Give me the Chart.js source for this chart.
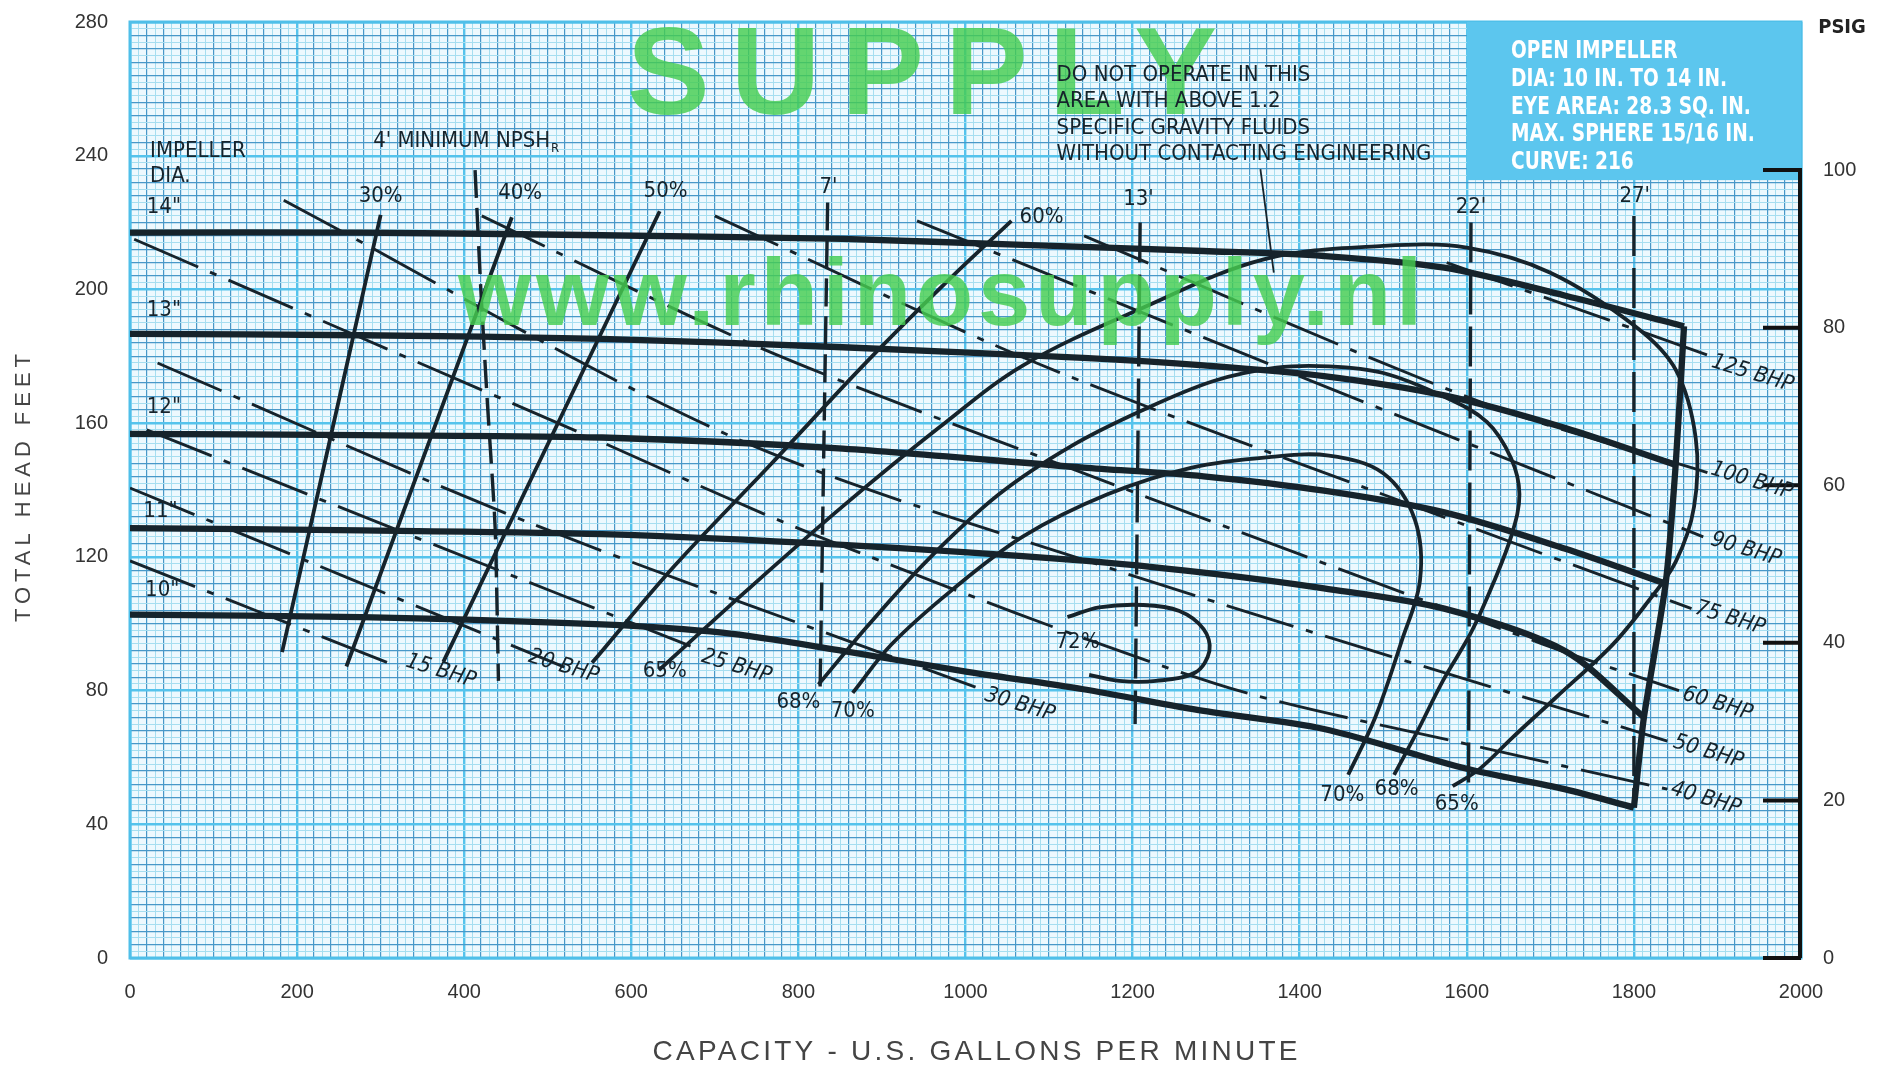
<!DOCTYPE html>
<html>
<head>
<meta charset="utf-8">
<title>Curve 216</title>
<script src="https://cdn.jsdelivr.net/npm/chart.js@4.4.1/dist/chart.umd.min.js"></script>
<style>
  html, body { margin: 0; padding: 0; background: #fff; }
  #chart { display: block; }
</style>
</head>
<body>
<canvas id="chart" width="1889" height="1068"></canvas>
<script>
// Axis tick labels
const capacityTicks = [0, 200, 400, 600, 800, 1000, 1200, 1400, 1600, 1800, 2000];
const headTicks = [0, 40, 80, 120, 160, 200, 240, 280];
const psigTicks = [0, 20, 40, 60, 80, 100];

// Impeller curves [gpm, ft]
const impeller14 = [[0, 217], [277, 217], [565, 216.2], [853, 215.1], [1069, 213.3], [1285, 211.5], [1429, 210], [1573, 206.5], [1717, 198.2], [1860, 189]];
const impeller13 = [[0, 186.7], [277, 186.3], [565, 185.2], [853, 182.7], [1141, 179.5], [1285, 177.3], [1429, 174.1], [1573, 168.3], [1717, 158.6], [1850, 147.5]];
const impeller12 = [[0, 156.8], [277, 156.4], [565, 155.7], [853, 152.4], [1141, 146.7], [1285, 144.1], [1429, 139.8], [1573, 133.3], [1717, 122.5], [1838, 112]];
const impeller11 = [[0, 128.6], [277, 127.9], [565, 126.8], [853, 123.6], [1141, 118.9], [1285, 115.3], [1429, 110.6], [1573, 104.5], [1717, 91.9], [1812, 72]];
const impeller10 = [[0, 102.7], [277, 102], [565, 99.8], [709, 97.3], [853, 91.9], [997, 85.8], [1141, 80.4], [1285, 73.9], [1429, 68.5], [1600, 56.6], [1717, 50.5], [1800, 45]];
const endOfCurve = [[1860, 189], [1850, 147.5], [1838, 112], [1812, 72], [1800, 45]];

// Efficiency curves
const eff30 = [[300, 222.3], [182, 91.5]];
const eff40 = [[457, 221.6], [259, 87.2]];
const eff50 = [[634, 223.4], [375, 88.6]];
const eff60 = [[553, 88.3], [651, 117.1], [767, 147.7], [882, 178.4], [983, 203.6], [1055, 220.5]];
const eff65 = [[633, 86.1], [738, 109.9], [853, 135.1], [968, 158.6], [1069, 177.3], [1213, 194.6], [1357, 209], [1500, 213], [1600, 212.5], [1700, 205], [1803, 188.7], [1850, 176], [1874, 155.5], [1872, 135], [1850, 118.5], [1815, 106], [1774, 93.6], [1707, 78], [1654, 65.8], [1615, 56.5], [1583, 51.4]];
const eff68 = [[824, 81.8], [882, 99.1], [954, 118.9], [1040, 138.7], [1127, 153.2], [1213, 164], [1297, 172.6], [1372, 176.6], [1435, 177], [1500, 175], [1572, 168], [1624, 160.4], [1653, 149.5], [1663, 138.7], [1654, 126.8], [1631, 111.7], [1605, 97.3], [1572, 83.2], [1540, 67.4], [1513, 54.8]];
const eff70 = [[865, 79.3], [911, 93.7], [983, 109.9], [1069, 126.1], [1170, 138.7], [1271, 146.7], [1366, 149.9], [1435, 150.3], [1500, 145], [1538, 131], [1544, 113], [1522, 94.8], [1490, 71.7], [1458, 54.8]];
const eff72 = [[1122, 102], [1160, 104.9], [1213, 105.6], [1256, 103.8], [1285, 98.4], [1292, 91.9], [1275, 85.4], [1228, 82.9], [1184, 82.9], [1148, 84.7]];

// Brake horsepower lines
const bhp15 = [[0, 118.8], [322, 87]];
const bhp20 = [[0, 140.6], [520, 87]];
const bhp25 = [[20, 158], [330, 127], [684, 92]];
const bhp30 = [[33, 178], [480, 130], [1012, 81]];
const bhp40 = [[5, 215], [540, 157], [825, 126], [1300, 82], [1600, 64], [1840, 50.5]];
const bhp50 = [[184, 226.7], [720, 156], [1180, 116], [1840, 64.9]];
const bhp60 = [[421, 222], [750, 183], [1115, 147.5], [1690, 94], [1854, 80]];
const bhp75 = [[700, 222], [1085, 178], [1550, 134], [1869, 104.5]];
const bhp90 = [[942, 220.5], [1390, 175], [1883, 126]];
const bhp100 = [[1142, 216], [1620, 166], [1888, 145.2]];
const bhp125 = [[1576, 208], [1890, 180.2]];

// NPSHr lines
const npsh4 = [[413, 235.7], [420, 199.5], [428, 165.1], [437, 128.9], [441, 82.9]];
const npsh7 = [[835, 226], [826, 81]];
const npsh13 = [[1209, 220], [1203, 70]];
const npsh22 = [[1605, 220], [1602, 50]];
const npsh27 = [[1800, 222], [1800, 45]];
const warningPointer = [[1353, 236], [1369, 205]];

// Labels [text, gpm, ft]
const effLabels = [['30%', 300, 228], ['40%', 467, 228.8], ['50%', 641, 229.5], ['60%', 1091, 221.6],
  ['65%', 640, 85.8], ['68%', 800, 76.4], ['70%', 865, 73.9], ['72%', 1134, 94.4],
  ['70%', 1451, 48.6], ['68%', 1516, 50.5], ['65%', 1588, 46.1]];
const npshLabels = [["7'", 836, 230.6], ["13'", 1207, 227], ["22'", 1605, 224.5], ["27'", 1801, 228]];
const bhpLabels = [['15 BHP', 372, 85.8], ['20 BHP', 519, 87.2], ['25 BHP', 726, 87.2], ['30 BHP', 1065, 75.7],
  ['40 BHP', 1886, 47.6], ['50 BHP', 1889, 61.6], ['60 BHP', 1900, 76], ['75 BHP', 1915, 101.6],
  ['90 BHP', 1934, 122.2], ['100 BHP', 1941, 142.7], ['125 BHP', 1942, 174.8]];
const diaLabels = [['IMPELLER', 24, 241.4], ['DIA.', 24, 233.9], ['14"', 20, 224.5], ['13"', 20, 193.9],
  ['12"', 20, 164.7], ['11"', 16, 133.7], ['10"', 18, 109.9]];
const warningLines = ['DO NOT OPERATE IN THIS', 'AREA WITH ABOVE 1.2', 'SPECIFIC GRAVITY FLUIDS', 'WITHOUT CONTACTING ENGINEERING'];
const infoLines = ['OPEN IMPELLER', 'DIA: 10 IN. TO 14 IN.', 'EYE AREA: 28.3 SQ. IN.', 'MAX. SPHERE 15/16 IN.', 'CURVE: 216'];

const ink = '#16232b';
const sans = "'Liberation Sans', Arial, sans-serif";
const narrow = "'Liberation Sans Narrow', 'DejaVu Sans Condensed', 'Liberation Sans', sans-serif";

const pts = arr => arr.map(([x, y]) => ({ x, y }));
function line(data, width, dash, tension) {
    return {
        data: pts(data),
        showLine: true,
        borderColor: ink,
        borderWidth: width,
        borderDash: dash || [],
        tension: tension || 0,
        pointRadius: 0,
        fill: false
    };
}

function steps(a, b, s) {
    const t = [];
    for (let v = a; v <= b + 1e-9; v += s) t.push({ value: Math.round(v * 100) / 100 });
    return t;
}
function gridColor(v, mid, major) {
    if (v % major === 0) return '#55c3ec';
    if (v % mid === 0) return '#4898c8';
    return '#a6def0';
}
function gridWidth(v, mid, major) {
    if (v % major === 0) return 2.4;
    if (v % mid === 0) return 1.2;
    return 1;
}

// Text stretched or spaced to a given width
function fitText(ctx, text, cx, cy, width) {
    ctx.letterSpacing = '0px';
    const natural = ctx.measureText(text).width;
    const gap = (width - natural) / (text.length - 1);
    ctx.textAlign = 'left';
    if ('letterSpacing' in ctx && gap > 0) {
        ctx.letterSpacing = gap + 'px';
        ctx.fillText(text, cx - width / 2, cy);
        ctx.letterSpacing = '0px';
    } else {
        ctx.save();
        ctx.translate(cx - width / 2, cy);
        ctx.scale(width / natural, 1);
        ctx.fillText(text, 0, 0);
        ctx.restore();
    }
}

function put(chart, text, gx, ft, font, opts) {
    const { ctx, scales: { x, y } } = chart;
    const o = opts || {};
    ctx.save();
    ctx.font = font;
    ctx.fillStyle = o.color || ink;
    ctx.textAlign = o.align || 'center';
    ctx.textBaseline = 'middle';
    ctx.translate(x.getPixelForValue(gx), y.getPixelForValue(ft));
    if (o.rotate) ctx.rotate(o.rotate * Math.PI / 180);
    if (o.squeeze) ctx.scale(o.squeeze, 1);
    ctx.fillText(text, 0, 0);
    const w = ctx.measureText(text).width * (o.squeeze || 1);
    ctx.restore();
    return w;
}

// keep the vertical axes from padding the plot area
function fixVertical(width) {
    return s => {
        s.width = width;
        s.paddingTop = 0;
        s.paddingBottom = 0;
    };
}

const overlay = {
    id: 'overlay',
    beforeDraw(chart) {
        const { ctx, chartArea: a } = chart;
        ctx.save();
        ctx.fillStyle = '#edf9fe';
        ctx.fillRect(a.left, a.top, a.right - a.left, a.bottom - a.top);
        ctx.restore();
    },
    beforeDatasetsDraw(chart) {
        const { ctx, chartArea: a, scales: { x, y, y2 } } = chart;
        ctx.save();
        // frame
        ctx.strokeStyle = '#4fbfe9';
        ctx.lineWidth = 3;
        ctx.strokeRect(a.left, a.top, a.right - a.left, a.bottom - a.top);
        // info panel
        const bx = x.getPixelForValue(1600), by = y.getPixelForValue(232.7);
        ctx.fillStyle = '#5cc6ee';
        ctx.fillRect(bx, a.top, a.right - bx, by - a.top);
        ctx.restore();
        const infoFt = [271, 262.6, 254.3, 246.2, 238];
        infoLines.forEach((t, i) => put(chart, t, 1653, infoFt[i], 'bold 24px ' + narrow, { align: 'left', color: '#ffffff', squeeze: 0.86 }));
        // PSIG axis
        ctx.save();
        ctx.strokeStyle = '#111';
        ctx.lineWidth = 4;
        ctx.beginPath();
        ctx.moveTo(a.right - 1, y2.getPixelForValue(0));
        ctx.lineTo(a.right - 1, y2.getPixelForValue(100) - 2);
        psigTicks.forEach(v => {
            const py = y2.getPixelForValue(v);
            ctx.moveTo(a.right - 38, py);
            ctx.lineTo(a.right, py);
        });
        ctx.stroke();
        ctx.restore();
    },
    afterDatasetsDraw(chart) {
        const { ctx, scales: { x, y } } = chart;
        // watermark
        ctx.save();
        ctx.fillStyle = 'rgba(70, 205, 80, 0.82)';
        ctx.textBaseline = 'alphabetic';
        ctx.font = 'bold 124px ' + sans;
        fitText(ctx, 'SUPPLY', 922, 114, 590);
        ctx.font = 'bold 94px ' + sans;
        fitText(ctx, 'www.rhinosupply.nl', 940, 325, 964);
        ctx.restore();

        effLabels.forEach(([t, gx, ft]) => put(chart, t, gx, ft, '22px ' + narrow));
        npshLabels.forEach(([t, gx, ft]) => put(chart, t, gx, ft, '22px ' + narrow));
        bhpLabels.forEach(([t, gx, ft]) => put(chart, t, gx, ft, 'italic 22px ' + narrow, { rotate: 17 }));
        diaLabels.forEach(([t, gx, ft]) => put(chart, t, gx, ft, '22px ' + narrow, { align: 'left' }));
        const w = put(chart, "4' MINIMUM NPSH", 291, 244.3, '22px ' + narrow, { align: 'left' });
        ctx.save();
        ctx.font = '13px ' + narrow;
        ctx.fillStyle = ink;
        ctx.textBaseline = 'middle';
        ctx.fillText('R', x.getPixelForValue(291) + w + 1, y.getPixelForValue(244.3) + 7);
        ctx.restore();
        const warnFt = [264.1, 256.2, 248.3, 240.4];
        warningLines.forEach((t, i) => put(chart, t, 1109, warnFt[i], '22px ' + narrow, { align: 'left' }));
    },
    afterDraw(chart) {
        const { ctx, chartArea: a } = chart;
        ctx.save();
        ctx.fillStyle = '#444';
        ctx.textBaseline = 'middle';
        ctx.font = '28px ' + sans;
        fitText(ctx, 'CAPACITY - U.S. GALLONS PER MINUTE', 975, 1052, 645);
        ctx.save();
        ctx.translate(24, (a.top + a.bottom) / 2 - 2);
        ctx.rotate(-Math.PI / 2);
        ctx.font = '22px ' + sans;
        fitText(ctx, 'TOTAL HEAD FEET', 0, 0, 268);
        ctx.restore();
        ctx.fillStyle = '#222';
        ctx.font = 'bold 20px ' + narrow;
        ctx.textAlign = 'center';
        ctx.fillText('PSIG', a.right + 41, a.top + 6);
        ctx.restore();
    }
};

const datasets = [
    ...[impeller14, impeller13, impeller12, impeller11, impeller10].map(d => line(d, 6.3, null, 0.3)),
    line(endOfCurve, 6.3, null, 0.2),
    ...[eff30, eff40, eff50, eff60, eff65, eff68, eff70, eff72].map(d => line(d, 3.8, null, 0.35)),
    ...[bhp15, bhp20, bhp25, bhp30, bhp40, bhp50, bhp60, bhp75, bhp90, bhp100, bhp125].map(d => line(d, 2.9, [70, 13, 7, 13], 0.3)),
    ...[npsh4, npsh7].map(d => line(d, 3.4, [28, 10], 0.2)),
    ...[npsh13, npsh22, npsh27].map(d => line(d, 3.4, [40, 12])),
    line(warningPointer, 1.8)
];

const tickFont = { family: sans, size: 20 };

new Chart(document.getElementById('chart'), {
    type: 'scatter',
    data: { datasets },
    options: {
        responsive: false,
        animation: false,
        events: [],
        layout: { padding: { top: 22, left: 0, right: 0, bottom: 0 } },
        plugins: {
            legend: { display: false },
            tooltip: { enabled: false }
        },
        scales: {
            x: {
                type: 'linear',
                position: 'bottom',
                min: 0,
                max: 2000,
                afterBuildTicks: s => { s.ticks = steps(0, 2000, 10); },
                afterFit: s => { s.height = 110; },
                ticks: {
                    autoSkip: false,
                    maxRotation: 0,
                    minRotation: 0,
                    padding: 22,
                    color: '#333',
                    font: tickFont,
                    callback: v => capacityTicks.includes(v) ? String(v) : ''
                },
                grid: {
                    drawTicks: false,
                    color: c => c.tick ? gridColor(c.tick.value, 20, 200) : '#4898c8',
                    lineWidth: c => c.tick ? gridWidth(c.tick.value, 20, 200) : 1
                },
                border: { display: false }
            },
            y: {
                type: 'linear',
                position: 'left',
                min: 0,
                max: 280,
                afterBuildTicks: s => { s.ticks = steps(0, 280, 2); },
                afterFit: fixVertical(130),
                ticks: {
                    autoSkip: false,
                    padding: 22,
                    color: '#333',
                    font: tickFont,
                    callback: v => headTicks.includes(v) ? String(v) : ''
                },
                grid: {
                    drawTicks: false,
                    color: c => c.tick ? gridColor(c.tick.value, 4, 40) : '#4898c8',
                    lineWidth: c => c.tick ? gridWidth(c.tick.value, 4, 40) : 1
                },
                border: { display: false }
            },
            y2: {
                type: 'linear',
                position: 'right',
                min: 0,
                max: 118.8,
                afterBuildTicks: s => { s.ticks = psigTicks.map(v => ({ value: v })); },
                afterFit: fixVertical(88),
                ticks: { padding: 22, color: '#333', font: tickFont },
                grid: { display: false, drawTicks: false },
                border: { display: false }
            }
        }
    },
    plugins: [overlay]
});
</script>
</body>
</html>
